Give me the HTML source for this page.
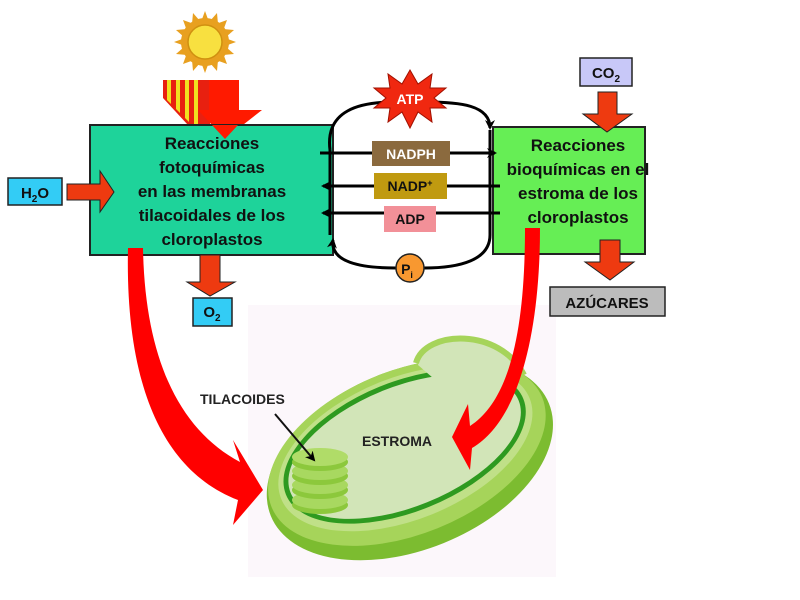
<!DOCTYPE html>
<html><head><meta charset="utf-8"><style>
html,body{margin:0;padding:0;background:#fff;}
svg{display:block;font-family:"Liberation Sans",sans-serif;font-weight:bold;}
</style></head><body>
<svg width="800" height="600" viewBox="0 0 800 600" xmlns="http://www.w3.org/2000/svg">
<defs>
<marker id="ah" markerWidth="10" markerHeight="10" refX="8" refY="5" orient="auto" markerUnits="userSpaceOnUse"><path d="M0,0 L10,5 L0,10 L3,5 Z" fill="#000"/></marker>
</defs>
<rect x="248" y="305" width="308" height="272" fill="#fcf7fb"/>

<!-- sun -->
<g transform="translate(205,42)">
<circle r="24" fill="#e8a020"/>
<g fill="#e8a020">
<polygon points="0,-31 4,-20 -4,-20"/><polygon points="0,31 4,20 -4,20"/><polygon points="-31,0 -20,4 -20,-4"/><polygon points="31,0 20,4 20,-4"/>
<polygon points="22,-22 18,-11 11,-18"/><polygon points="-22,22 -18,11 -11,18"/><polygon points="-22,-22 -11,-18 -18,-11"/><polygon points="22,22 11,18 18,11"/>
<polygon points="12,-29 13,-18 5,-21"/><polygon points="-12,29 -13,18 -5,21"/><polygon points="29,12 18,13 21,5"/><polygon points="-29,-12 -18,-13 -21,-5"/>
<polygon points="-12,-29 -5,-21 -13,-18"/><polygon points="12,29 5,21 13,18"/><polygon points="29,-12 21,-5 18,-13"/><polygon points="-29,12 -21,5 -18,13"/>
</g>
<circle r="17" fill="#f8e040" stroke="#d09010" stroke-width="1.5"/>
</g>
<!-- light beam -->
<polygon points="163,80 210,80 210,138 200,138 163,98" fill="#e82010"/>
<g fill="#f0e020">
<polygon points="167,80 171,80 171,104 167,100"/><polygon points="176,80 180,80 180,113 176,109"/><polygon points="185,80 189,80 189,122 185,118"/><polygon points="194,80 198,80 198,131 194,127"/>
</g>
<polygon points="209,80 239,80 239,110 262,110 225,139 198,110 209,110" fill="#ff1a00"/>

<!-- left box -->
<rect x="90" y="125" width="243" height="130" fill="#1ed39a" stroke="#222" stroke-width="2"/>
<polygon points="212,125 238,125 225,139" fill="#ff1a00"/>
<g font-size="17" fill="#111" text-anchor="middle">
<text x="212" y="149">Reacciones</text>
<text x="212" y="173">fotoquímicas</text>
<text x="212" y="197">en las membranas</text>
<text x="212" y="221">tilacoidales de los</text>
<text x="212" y="245">cloroplastos</text>
</g>
<!-- H2O -->
<rect x="8" y="178" width="54" height="27" fill="#33ccf5" stroke="#222" stroke-width="1.5"/>
<text x="35" y="198" font-size="15" text-anchor="middle" fill="#111">H<tspan font-size="10" dy="4">2</tspan><tspan dy="-4">O</tspan></text>
<polygon points="67,184 100,184 100,171 114,192 100,212 100,200 67,200" fill="#ee3a10" stroke="#222" stroke-width="1"/>
<!-- O2 -->
<polygon points="200,255 220,255 220,282 235,282 210,296 187,282 200,282" fill="#ee3a10" stroke="#222" stroke-width="1"/>
<rect x="193" y="298" width="39" height="28" fill="#33ccf5" stroke="#222" stroke-width="1.5"/>
<text x="212" y="317" font-size="15" text-anchor="middle" fill="#111">O<tspan font-size="10" dy="4">2</tspan></text>

<!-- right box -->
<rect x="493" y="127" width="152" height="127" fill="#66ee55" stroke="#222" stroke-width="2"/>
<g font-size="17" fill="#111" text-anchor="middle">
<text x="578" y="151">Reacciones</text>
<text x="578" y="175">bioquímicas en el</text>
<text x="578" y="199">estroma de los</text>
<text x="578" y="223">cloroplastos</text>
</g>
<rect x="580" y="58" width="52" height="28" fill="#c8c8f8" stroke="#222" stroke-width="1.5"/>
<text x="606" y="78" font-size="15" text-anchor="middle" fill="#111">CO<tspan font-size="10" dy="4">2</tspan></text>
<polygon points="598,92 617,92 617,114 632,114 607,132 583,114 598,114" fill="#ee3a10" stroke="#222" stroke-width="1"/>
<polygon points="600,240 620,240 620,262 634,262 610,280 585,262 600,262" fill="#ee3a10" stroke="#222" stroke-width="1"/>
<rect x="550" y="287" width="115" height="29" fill="#bcbcbc" stroke="#222" stroke-width="1.5"/>
<text x="607" y="308" font-size="15" text-anchor="middle" fill="#111">AZÚCARES</text>

<!-- loop -->
<g fill="none" stroke="#000" stroke-width="3">
<path d="M330,150 C325,110 360,102 395,102" />
<path d="M425,102 C460,102 490,105 490,128" marker-end="url(#ah)"/>
<path d="M490,130 L490,235"/>
<path d="M330,150 L330,235"/>
<path d="M490,235 C490,260 460,268 424,268"/>
<path d="M396,268 C360,268 330,262 333,240" marker-end="url(#ah)"/>
<line x1="320" y1="153" x2="495" y2="153" marker-end="url(#ah)"/>
<line x1="500" y1="186" x2="323" y2="186" marker-end="url(#ah)"/>
<line x1="500" y1="213" x2="323" y2="213" marker-end="url(#ah)"/>
</g>
<rect x="372" y="141" width="78" height="25" fill="#8b6a3e"/>
<text x="411" y="159" font-size="14" text-anchor="middle" fill="#fff">NADPH</text>
<rect x="374" y="173" width="73" height="26" fill="#c09a10"/>
<text x="410" y="191" font-size="14" text-anchor="middle" fill="#111">NADP<tspan font-size="9" dy="-5">+</tspan></text>
<rect x="384" y="206" width="52" height="26" fill="#f29098"/>
<text x="410" y="224" font-size="14" text-anchor="middle" fill="#111">ADP</text>
<!-- ATP star -->
<polygon points="410,70 418,84 432,74 430,88 446,88 434,98 446,108 430,108 432,122 418,112 410,128 402,112 388,122 390,108 374,108 386,98 374,88 390,88 388,74 402,84" fill="#f02810" stroke="#a01000" stroke-width="1"/>
<text x="410" y="104" font-size="14" text-anchor="middle" fill="#fff">ATP</text>
<circle cx="410" cy="268" r="14" fill="#f89830" stroke="#222" stroke-width="1.5"/>
<text x="407" y="274" font-size="14" text-anchor="middle" fill="#111">P<tspan font-size="9" dy="4">i</tspan></text>

<!-- chloroplast -->
<g transform="rotate(-22 408 455)">
<ellipse cx="408" cy="460" rx="150" ry="90" fill="#7cbc30"/>
<ellipse cx="408" cy="452" rx="146" ry="82" fill="#a6d45a"/>
<ellipse cx="408" cy="448" rx="134" ry="71" fill="#c0e088"/>
<ellipse cx="408" cy="446" rx="128" ry="65" fill="#2e9a20"/>
<ellipse cx="408" cy="446" rx="123" ry="60" fill="#d2e5b8"/>
</g>
<path d="M418,365 C425,332 500,327 522,375 L470,410 Z" fill="#d2e5b8"/>
<path d="M416,363 C425,330 500,327 524,375" fill="none" stroke="#a6d45a" stroke-width="6"/>
<g>
<ellipse cx="320" cy="505" rx="28" ry="9" fill="#8cc83c"/><ellipse cx="320" cy="500" rx="28" ry="9" fill="#a8d860"/>
<ellipse cx="320" cy="490" rx="28" ry="9" fill="#8cc83c"/><ellipse cx="320" cy="485" rx="28" ry="9" fill="#a8d860"/>
<ellipse cx="320" cy="476" rx="28" ry="9" fill="#8cc83c"/><ellipse cx="320" cy="471" rx="28" ry="9" fill="#a8d860"/>
<ellipse cx="320" cy="462" rx="28" ry="9" fill="#8cc83c"/><ellipse cx="320" cy="457" rx="28" ry="9" fill="#b0dc68"/>
</g>
<text x="200" y="404" font-size="14" fill="#222">TILACOIDES</text>
<line x1="275" y1="414" x2="314" y2="460" stroke="#111" stroke-width="2" marker-end="url(#ah)"/>
<text x="362" y="446" font-size="14" fill="#222">ESTROMA</text>

<!-- big red arrows -->
<path d="M128,248 L143,248 C145,360 180,430 240,462 L233,440 L263,490 L233,525 L238,500 C160,470 125,380 128,248 Z" fill="#ff0000"/>
<path d="M525,228 L540,228 C540,330 520,420 472,448 L470,470 L452,437 L468,404 L470,426 C510,400 525,330 525,228 Z" fill="#ff0000"/>
</svg>
</body></html>
